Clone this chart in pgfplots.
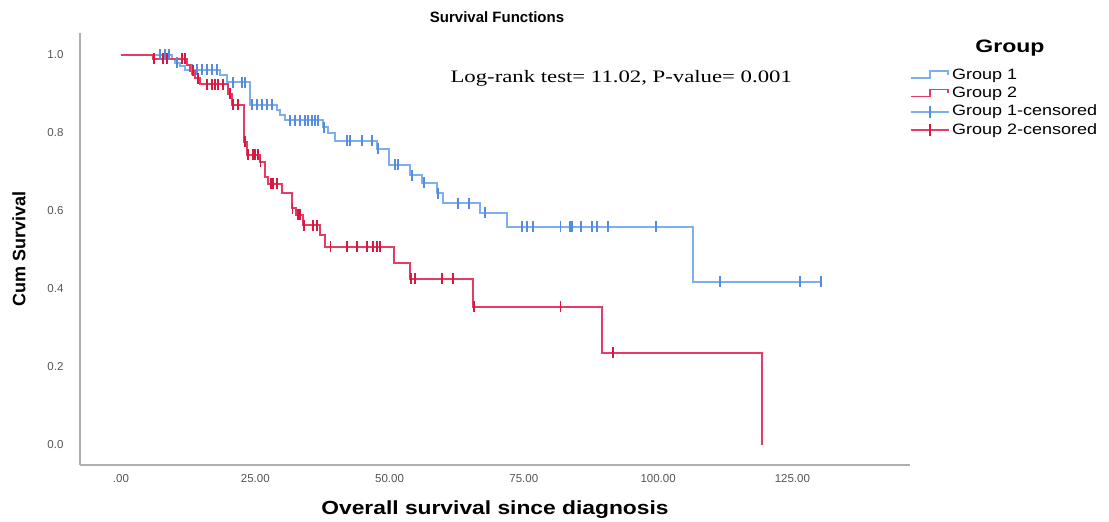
\documentclass[border=0pt]{standalone}
\usepackage{graphicx}
\usepackage{pgfplots}
\pgfplotsset{compat=1.18}
\usepackage{fontspec}
\setmainfont{Liberation Sans}
\newfontfamily\annfont{Liberation Serif}
\definecolor{g1}{RGB}{125,175,238}
\definecolor{g1m}{RGB}{85,140,225}
\definecolor{g2}{RGB}{228,60,100}
\definecolor{g2m}{RGB}{215,25,65}
\definecolor{axgray}{RGB}{175,175,175}
\definecolor{tickgray}{RGB}{85,85,85}
\newcommand{\wide}[2]{\scalebox{#1}[1]{#2}}

\pgfplotstableread{
t s
0 1.000
9.5 0.990
10.1 0.980
11.0 0.971
11.9 0.962
18.4 0.949
19.7 0.930
24.0 0.872
29.1 0.860
29.6 0.846
30.5 0.833
37.6 0.815
38.5 0.800
39.9 0.780
47.7 0.760
49.9 0.718
53.8 0.692
56.1 0.672
58.8 0.646
60.0 0.620
66.9 0.595
71.9 0.559
106.5 0.418
130.3 0.418
}\gonestep

\pgfplotstableread{
t s
7.3 1.000
8.2 1.000
8.9 1.000
10.4 0.980
13.2 0.962
14.2 0.962
15.1 0.962
16.0 0.962
16.9 0.962
17.9 0.962
20.9 0.930
22.5 0.930
23.1 0.930
24.4 0.872
25.3 0.872
26.3 0.872
27.2 0.872
28.1 0.872
31.5 0.833
32.4 0.833
33.3 0.833
34.3 0.833
34.8 0.833
35.6 0.833
36.1 0.833
36.7 0.833
37.8 0.815
42.1 0.780
42.6 0.780
44.9 0.780
46.7 0.780
47.9 0.760
51.0 0.718
51.6 0.718
54.2 0.692
56.4 0.672
59.0 0.646
62.8 0.620
64.8 0.620
67.8 0.595
74.7 0.559
75.6 0.559
76.7 0.559
81.8 0.559
83.6 0.559
84.0 0.559
85.7 0.559
87.7 0.559
88.6 0.559
90.7 0.559
99.6 0.559
111.5 0.418
126.4 0.418
130.3 0.418
}\gonecens

\pgfplotstableread{
t s
0 1.000
6.0 0.990
12.3 0.974
12.8 0.960
13.8 0.940
14.7 0.925
19.9 0.900
20.7 0.872
22.9 0.777
23.5 0.744
25.9 0.726
26.8 0.687
27.4 0.670
30.0 0.646
31.8 0.607
32.6 0.590
33.9 0.564
37.1 0.538
38.0 0.508
50.8 0.467
53.8 0.426
65.5 0.354
89.6 0.236
119.4 0.000
}\gtwostep

\pgfplotstableread{
t s
6.2 0.990
7.8 0.990
8.6 0.990
11.4 0.990
11.9 0.990
13.4 0.960
14.3 0.940
16.0 0.925
16.9 0.925
17.5 0.925
18.1 0.925
19.0 0.925
20.3 0.900
20.9 0.872
21.8 0.872
23.1 0.777
23.6 0.744
24.6 0.744
25.0 0.744
25.5 0.744
26.0 0.726
27.9 0.670
28.3 0.670
29.1 0.670
31.9 0.607
33.0 0.590
33.3 0.590
34.1 0.564
35.8 0.564
36.5 0.564
39.0 0.508
42.1 0.508
43.9 0.508
45.8 0.508
46.9 0.508
47.7 0.508
48.2 0.508
54.0 0.426
54.7 0.426
59.8 0.426
61.8 0.426
65.7 0.354
81.8 0.354
91.6 0.236
}\gtwocens

\begin{document}
\begin{tikzpicture}[x=1pt,y=1pt]
\path[use as bounding box] (0,0) rectangle (1109,522);
\begin{axis}[
  at={(80pt,57pt)}, anchor=south west,
  scale only axis, width=830pt, height=432pt,
  xmin=-7.63, xmax=146.9, ymin=-0.0513, ymax=1.0564,
  axis x line*=bottom, axis y line*=left,
  axis line style={axgray, line width=1.8pt, -},
  tick style={draw=none},
  xtick={0,25,50,75,100,125},
  xticklabels={.00,25.00,50.00,75.00,100.00,125.00},
  ytick={0,0.2,0.4,0.6,0.8,1.0},
  yticklabels={0.0,0.2,0.4,0.6,0.8,1.0},
  tick label style={font=\fontsize{11.5}{13}\selectfont, text=tickgray},
  xticklabel style={yshift=-6pt},
  yticklabel style={xshift=-13pt},
  clip=false,
  legend cell align=left,
  legend style={at={(axis description cs:1.0,0.924)}, anchor=north west,
    draw=none, fill=none, inner sep=0pt, row sep=0pt,
    nodes={inner sep=2pt, text height=11.3pt, text depth=3pt},
    font=\fontsize{15}{17}\selectfont},
]
\addplot[const plot, g1, line width=2pt, forget plot] table[x=t,y=s] {\gonestep};
\addplot[const plot, g2, line width=2pt, forget plot] table[x=t,y=s] {\gtwostep};
\addplot[only marks, mark=|, mark size=5.5pt, g1m, mark options={line width=1.6pt}, forget plot] table[x=t,y=s] {\gonecens};
\addplot[only marks, mark=|, mark size=5.5pt, g2m, mark options={line width=1.6pt}, forget plot] table[x=t,y=s] {\gtwocens};
\addlegendimage{legend image code/.code={\draw[g1, line width=1.8pt] (0pt,-3pt) -- (19pt,-3pt) -- (19pt,4pt) -- (37pt,4pt) -- (37pt,0pt);}}
\addlegendentry{\wide{1.2}{Group 1}}
\addlegendimage{legend image code/.code={\draw[g2, line width=1.8pt] (0pt,-3pt) -- (19pt,-3pt) -- (19pt,4pt) -- (37pt,4pt) -- (37pt,0pt);}}
\addlegendentry{\wide{1.2}{Group 2}}
\addlegendimage{legend image code/.code={\draw[g1, line width=1.8pt] (0pt,0pt) -- (38pt,0pt); \draw[g1m, line width=1.6pt] (19pt,-6pt) -- (19pt,6pt);}}
\addlegendentry{\wide{1.2}{Group 1-censored}}
\addlegendimage{legend image code/.code={\draw[g2, line width=1.8pt] (0pt,0pt) -- (38pt,0pt); \draw[g2m, line width=1.6pt] (19pt,-6pt) -- (19pt,6pt);}}
\addlegendentry{\wide{1.2}{Group 2-censored}}
\end{axis}
\node[font=\bfseries\fontsize{15}{17}\selectfont] at (497,505) {Survival Functions};
\node[font=\bfseries\fontsize{19}{21}\selectfont] at (495,12) {\wide{1.2}{Overall survival since diagnosis}};
\node[font=\bfseries\fontsize{18}{20}\selectfont, rotate=90] at (19,273) {Cum Survival};
\node[font=\bfseries\fontsize{18}{20}\selectfont] at (1010,474) {\wide{1.28}{Group}};
\node[font=\annfont\fontsize{17.5}{20}\selectfont, anchor=west] at (447,444) {\wide{1.3}{Log-rank test= 11.02, P-value= 0.001}};
\end{tikzpicture}
\end{document}
